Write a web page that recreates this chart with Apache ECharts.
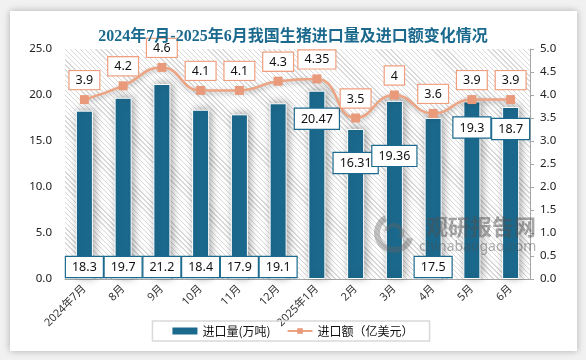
<!DOCTYPE html>
<html><head><meta charset="utf-8">
<script src="https://cdn.jsdelivr.net/npm/echarts@6/dist/echarts.min.js"></script>
<style>
html,body{margin:0;padding:0;background:#f1f1f1;width:586px;height:360px;overflow:hidden;}
#card{position:absolute;left:10px;top:11px;width:567px;height:340px;background:#fff;box-shadow:0 0 7px rgba(0,0,0,0.28);}
#hatch{position:absolute;left:65px;top:49px;width:465px;height:230px;
  background:repeating-linear-gradient(45deg,#d9d9d9 0px,#d9d9d9 1px,#ffffff 1px,#ffffff 3.6px);}
#c{position:absolute;left:0;top:0;width:586px;height:360px;}
</style></head>
<body>
<div id="card"></div>
<div id="hatch"></div>
<div id="c"></div>
<script>
const categories = ['2024年7月','8月','9月','10月','11月','12月','2025年1月','2月','3月','4月','5月','6月'];
const importVolume = [18.3,19.7,21.2,18.4,17.9,19.1,20.47,16.31,19.36,17.5,19.3,18.7];
const importValue = [3.9,4.2,4.6,4.1,4.1,4.3,4.35,3.5,4,3.6,3.9,3.9];
const leftTicks = {min:0, max:25, interval:5};
const rightTicks = {min:0, max:5, interval:0.5};

// label placement for bar labels (style config, not data)
const barLabelPlace = ['insideBottom','insideBottom','insideBottom','insideBottom','insideBottom','insideBottom','insideTop','insideTop','insideTop','insideBottom','insideTop','insideTop'];
const barLabelDist = [2,2,2,2,2,2,18,24,45,2,16,12];

const chart = echarts.init(document.getElementById('c'), null, {renderer:'canvas'});
const barData = importVolume.map((v,i)=>({
  value:v,
  label:{position:barLabelPlace[i], distance:barLabelDist[i]}
}));
chart.setOption({
  backgroundColor:'transparent',
  animation:false,
  title:{
    text:'2024年7月-2025年6月我国生猪进口量及进口额变化情况',
    left:'center', top:24,
    textStyle:{color:'#1b6a8e', fontSize:16, fontWeight:'bold', fontFamily:'"Liberation Serif","Noto Sans CJK SC",serif'}
  },
  grid:{left:65, right:56, top:49, bottom:81, show:false},
  legend:{
    top:321, left:'center',
    borderColor:'#d9d9d9', borderWidth:1.5,
    padding:[4,16,4,20],
    itemGap:16,
    textStyle:{fontSize:12, color:'#111', fontFamily:'"Noto Sans CJK SC",sans-serif'},
    data:[
      {name:'进口量(万吨)', icon:'rect', itemStyle:{borderWidth:0}},
      {name:'进口额（亿美元）'}
    ],
    itemWidth:25, itemHeight:7
  },
  xAxis:{
    type:'category', data:categories,
    axisLine:{show:true, lineStyle:{color:'#a6a6a6', width:1}},
    axisTick:{show:false},
    axisLabel:{rotate:45, fontSize:11, color:'#333', margin:8, interval:0, fontFamily:'"Noto Sans","Noto Sans CJK SC",sans-serif'}
  },
  yAxis:[
    {type:'value', min:leftTicks.min, max:leftTicks.max, interval:leftTicks.interval,
     axisLine:{show:false}, axisTick:{show:false}, splitLine:{show:false},
     axisLabel:{formatter:v=>v.toFixed(1), fontSize:11.5, color:'#222', margin:13, fontFamily:'"Noto Sans",sans-serif'}},
    {type:'value', min:rightTicks.min, max:rightTicks.max, interval:rightTicks.interval,
     position:'right',
     axisLine:{show:true, lineStyle:{color:'#a6a6a6'}},
     axisTick:{show:true, length:4, lineStyle:{color:'#a6a6a6'}}, splitLine:{show:false},
     axisLabel:{formatter:v=>v.toFixed(1), fontSize:11.5, color:'#222', margin:10, fontFamily:'"Noto Sans",sans-serif'}}
  ],
  series:[
    {
      name:'进口量(万吨)', type:'bar', data:barData, barWidth:'44%',
      itemStyle:{color:'#1b6a8e', borderColor:'#ffffff', borderWidth:1,
        shadowBlur:8, shadowColor:'rgba(0,0,0,0.35)', shadowOffsetX:2, shadowOffsetY:-1},
      label:{show:true, color:'#111', fontSize:12.5, fontFamily:'"Noto Sans",sans-serif',
        backgroundColor:'#fff', borderColor:'#1b6a8e', borderWidth:1.2, padding:[4,6,3,6]},
      z:2
    },
    {
      name:'进口额（亿美元）', type:'line', yAxisIndex:1, data:importValue, smooth:0.5,
      symbol:'rect', symbolSize:9,
      lineStyle:{color:'#eca482', width:2.5, shadowBlur:5, shadowColor:'rgba(0,0,0,0.3)', shadowOffsetY:2},
      itemStyle:{color:'#e89a7b'},
      label:{show:true, position:'top', distance:6, color:'#111', fontSize:12.5, fontFamily:'"Noto Sans",sans-serif',
        backgroundColor:'#fff', borderColor:'#ef9f7f', borderWidth:1.2, padding:[3,6,2,6]},
      z:3
    }
  ],
  graphic:[
    {type:'arc', shape:{cx:394, cy:233, r:17, startAngle:0.3, endAngle:4.2}, style:{stroke:'rgba(100,100,100,0.4)', lineWidth:6, fill:null}, z:5},
    {type:'arc', shape:{cx:394, cy:233, r:8, startAngle:3.4, endAngle:7.0}, style:{stroke:'rgba(100,100,100,0.4)', lineWidth:4, fill:null}, z:5},
    {type:'text', left:426, top:216, style:{text:'观研报告网', font:'bold 22px "Noto Sans CJK SC",sans-serif', fill:'rgba(80,80,80,0.5)'}, z:5},
    {type:'text', left:419, top:240, style:{text:'chinabaogao.com', font:'14px "Noto Sans",sans-serif', fill:'rgba(80,80,80,0.45)'}, z:5}
  ]
});
</script>
</body></html>
